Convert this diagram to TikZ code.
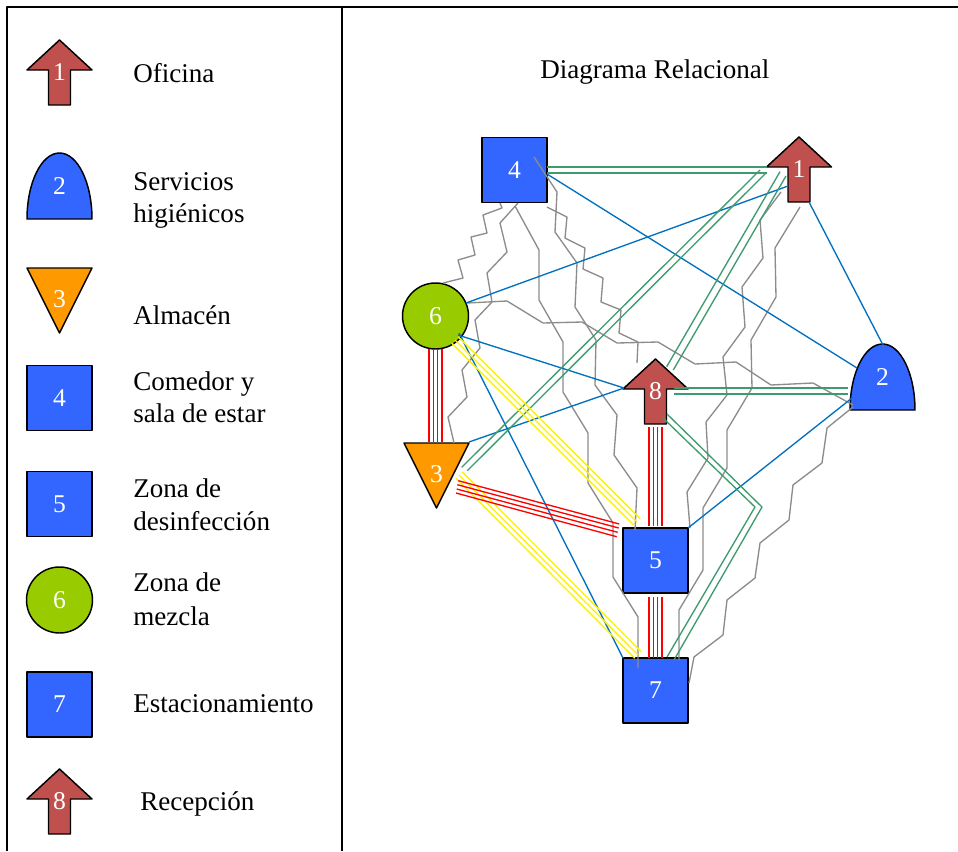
\documentclass[tikz,border=0pt]{standalone}
\usepackage{fontspec}
\setmainfont{Liberation Serif}
\usetikzlibrary{calc}
\definecolor{nodeblue}{HTML}{3366FF}
\definecolor{arrowred}{HTML}{C0504D}
\definecolor{triorange}{HTML}{FF9900}
\definecolor{mixgreen}{HTML}{99CC00}
\definecolor{linkblue}{HTML}{0070C0}
\definecolor{linkgreen}{HTML}{3D9B6E}
\definecolor{linkgray}{HTML}{8C8C8C}
\newcommand\legfont{\fontsize{20.3pt}{24pt}\selectfont}
\newcommand\digitfont{\fontsize{19.2pt}{20pt}\selectfont}
\tikzset{
  shapeline/.style={draw=black, line width=1.1pt},
  sqnode/.style={shapeline, fill=nodeblue, minimum size=48.75pt, inner sep=0pt, text=white, font=\digitfont},
  circnode/.style={shapeline, fill=mixgreen, circle, minimum size=49.5pt, inner sep=0pt, text=white, font=\digitfont},
  digit/.style={text=white, font=\digitfont, inner sep=0pt},
  legtext/.style={anchor=base west, inner sep=0pt, font=\legfont},
  lkgray/.style={linkgray, line width=1pt},
  lkblue/.style={linkblue, line width=1pt},
  lkgreen/.style={linkgreen, line width=1pt},
  lkyellow/.style={yellow, line width=1pt},
  lkred/.style={red, line width=1pt},
  pics/uparrowshape/.style={code={
    \draw[shapeline, fill=arrowred] (0,-32.5) -- (32.5,-2.5) -- (11,-2.5) -- (11,32.5)
      -- (-11,32.5) -- (-11,-2.5) -- (-32.5,-2.5) -- cycle;}},
  pics/domeshape/.style={code={
    \draw[shapeline, fill=nodeblue] (-32.5,32.5) .. controls (-32.5,-4) and (-18,-33.5) .. (0,-33.5)
      .. controls (18,-33.5) and (32.5,-4) .. (32.5,32.5) -- cycle;}},
  pics/trishape/.style={code={
    \draw[shapeline, fill=triorange] (-32.5,-32.5) -- (32.5,-32.5) -- (0,32.5) -- cycle;}},
}
\begin{document}
\begin{tikzpicture}[x=0.75pt, y=-0.75pt, line join=round]
\useasboundingbox (0,0) rectangle (958,851);
\fill[white] (0,0) rectangle (958,851);

% table frame
\draw[line width=1.2pt] (7,851) -- (7,7) -- (958,7);
\draw[line width=1.2pt] (342,7) -- (342,851);

% legend
\pic at (59.5,72.5) {uparrowshape};
\node[digit] (L1) at (59.5,72.5) {1};
\pic at (59.5,186.5) {domeshape};
\node[digit] (L2) at (59.5,186.5) {2};
\pic at (59.5,300.5) {trishape};
\node[digit] (L3) at (59.5,299.5) {3};
\node[sqnode] (L4) at (59.5,398) {4};
\node[sqnode] (L5) at (59.5,504) {5};
\node[circnode] (L6) at (59.5,600) {6};
\node[sqnode] (L7) at (59.5,704.5) {7};
\pic at (59.5,801.5) {uparrowshape};
\node[digit] (L8) at (59.5,801.5) {8};

\node[legtext] (t1) at (133,82.7) {Oficina};
\node[legtext] (t2a) at (133,190) {Servicios};
\node[legtext] (t2b) at (133,222) {higiénicos};
\node[legtext] (t3) at (133,324) {Almacén};
\node[legtext] (t4a) at (133,390.5) {Comedor y};
\node[legtext] (t4b) at (133,422.5) {sala de estar};
\node[legtext] (t5a) at (133,497) {Zona de};
\node[legtext] (t5b) at (133,530) {desinfección};
\node[legtext] (t6a) at (133,591.5) {Zona de};
\node[legtext] (t6b) at (133,625) {mezcla};
\node[legtext] (t7) at (133,712.5) {Estacionamiento};
\node[legtext] (t8) at (140,810) {Recepción};

\node[legtext] (title) at (540,78) {Diagrama Relacional};

% diagram zones
\node[sqnode] (n4) at (514.5,170) {4};
\pic at (799,169.5) {uparrowshape};
\node[digit] (n1) at (799,169.5) {1};
\pic at (882.5,377.5) {domeshape};
\node[digit] (n2) at (882.5,377.5) {2};
\node[circnode] (n6) at (435.5,316) {6};
\pic at (436.5,475.5) {trishape};
\node[digit] (n3) at (436.5,474.5) {3};
\pic at (655.5,391.5) {uparrowshape};
\node[digit] (n8) at (655.5,391.5) {8};
\node[sqnode] (n5) at (655.5,560.5) {5};
\node[sqnode] (n7) at (655.5,690.5) {7};

% undesirable relations (zigzag)
\draw[lkgray] ($(n4)+(-14.5,33)$) -- (502,208) -- (483,215) -- (487,233) -- (471,237)
  -- (475,255) -- (458,260) -- (463,278) -- ($(n6)+(7.5,-33)$);
\draw[lkgray] ($(n4)+(3.5,33)$) -- (500,223) -- (507,252) -- (487,273) -- (492,302)
  -- (475,320) -- (480,348) -- (462,370) -- (467,397) -- (448,417) -- ($(n3)+(17.5,-31.5)$);
\draw[lkgray] ($(n4)+(0.5,36)$) -- (539,250) -- (539,300) -- (563,342) -- (563,392)
  -- (588,433) -- (588,483) -- (613,523) -- (613,577) -- (638,617) -- ($(n7)+(-17.5,-22.5)$);
\draw[lkgray] ($(n4)+(19.5,-13)$) -- (557,192) -- (555,232) -- (577,263) -- (575,307)
  -- (596,340) -- (595,385) -- (617,415) -- (614,455) -- (637,488) -- ($(n5)+(-20.5,-30.5)$);
\draw[lkgray] ($(n4)+(32.5,37)$) -- (567,217) -- (565,238) -- (585,248) -- (583,269)
  -- (603,278) -- (601,302) -- (621,310) -- (619,333) -- (638,342) -- ($(n8)+(-18.5,-28.5)$);
\draw[lkgray] ($(n6)+(31.5,-13)$) -- (507,301) -- (543,323) -- (582,322) -- (617,343)
  -- (658,342) -- (695,364) -- (736,362) -- (771,385) -- (813,383) -- ($(n2)+(-29.5,27.5)$);
\draw[lkgray] ($(n1)+(-18,22.5)$) -- (760,220) -- (763,258) -- (742,287) -- (745,327)
  -- (723,357) -- (727,395) -- (706,422) -- (708,458) -- (687,492) -- ($(n5)+(34.5,-32.5)$);
\draw[lkgray] ($(n1)+(1,37.5)$) -- (775,248) -- (776,297) -- (751,340) -- (752,388)
  -- (727,430) -- (727,468) -- (703,508) -- (703,570) -- (679,610) -- ($(n7)+(23.5,-30.5)$);
\draw[lkgray] ($(n2)+(-29.5,29.5)$) -- (827,428) -- (822,463) -- (793,485) -- (789,520)
  -- (760,543) -- (755,578) -- (727,600) -- (723,635) -- (694,657) -- ($(n7)+(33.5,-7.5)$);

% ordinary relations
\draw[lkblue] ($(n4)+(32.5,4)$) -- ($(n2)+(-25.5,-9.5)$);
\draw[lkblue] ($(n6)+(30.5,-13)$) -- ($(n1)+(-11,16.5)$);
\draw[lkblue] ($(n1)+(10,32.5)$) -- ($(n2)+(0.5,-32.5)$);
\draw[lkblue] ($(n6)+(22.5,19)$) -- ($(n8)+(-31.5,-3.5)$);
\draw[lkblue] ($(n3)+(32.5,-32.5)$) -- ($(n8)+(-31.5,-3.5)$);
\draw[lkblue] ($(n6)+(23.5,17)$) -- ($(n7)+(-32.5,-32.5)$);
\draw[lkblue] ($(n5)+(32.5,-32.5)$) -- ($(n2)+(-30.5,20.5)$);

% important relations (double)
\draw[lkgreen] ($(n4)+(32.5,-3)$) -- ($(n1)+(-32,-2.5)$);
\draw[lkgreen] ($(n4)+(32.5,3)$) -- ($(n1)+(-32,3.5)$);
\draw[lkgreen] ($(n1)+(-39,0.5)$) -- ($(n3)+(25.2,-7.2)$);
\draw[lkgreen] ($(n1)+(-33,3.5)$) -- ($(n3)+(30.8,-3.8)$);
\draw[lkgreen] ($(n1)+(-19,2.2)$) -- ($(n8)+(11.2,-24.8)$);
\draw[lkgreen] ($(n1)+(-13,6.5)$) -- ($(n8)+(17.8,-21.5)$);
\draw[lkgreen] ($(n8)+(18.5,-3.5)$) -- ($(n2)+(-34.5,10.5)$);
\draw[lkgreen] ($(n8)+(18.5,2.5)$) -- ($(n2)+(-34.5,16.5)$);
\draw[lkgreen] ($(n8)+(7.5,26.5)$) -- (755,507) -- ($(n7)+(11.5,-33.5)$);
\draw[lkgreen] ($(n8)+(11.5,22.5)$) -- (762,507) -- ($(n7)+(18.5,-30.5)$);

% especially important relations (triple)
\draw[lkyellow] ($(n6)+(22.7,20.8)$) -- ($(n5)+(-15.3,-41.7)$);
\draw[lkyellow] ($(n6)+(19.5,24)$) -- ($(n5)+(-18.5,-38.5)$);
\draw[lkyellow] ($(n6)+(16.3,27.2)$) -- ($(n5)+(-21.7,-35.3)$);
\draw[lkyellow] ($(n3)+(25.7,-2.7)$) -- ($(n7)+(-14.3,-38.7)$);
\draw[lkyellow] ($(n3)+(22.5,0.5)$) -- ($(n7)+(-17.5,-35.5)$);
\draw[lkyellow] ($(n3)+(19.3,3.7)$) -- ($(n7)+(-20.7,-32.3)$);

% absolutely necessary relations (quadruple)
\foreach \d in {-6.5,-2.2,2.2,6.5} {
  \draw[lkred] ($(n6)+(\d,33)$) -- ($(n3)+(\d-1,-32.5)$);
  \draw[lkred] ($(n8)+(\d,35.5)$) -- ($(n5)+(\d,-34.5)$);
  \draw[lkred] ($(n5)+(\d,36.5)$) -- ($(n7)+(\d,-32.5)$);
}
\draw[lkred] ($(n3)+(21.8,6.2)$) -- ($(n5)+(-36.2,-36.5)$);
\draw[lkred] ($(n3)+(20.8,10.2)$) -- ($(n5)+(-36.8,-32.5)$);
\draw[lkred] ($(n3)+(20.2,14.5)$) -- ($(n5)+(-37.8,-28.2)$);
\draw[lkred] ($(n3)+(19.5,18.5)$) -- ($(n5)+(-38.8,-23.8)$);
\end{tikzpicture}
\end{document}
